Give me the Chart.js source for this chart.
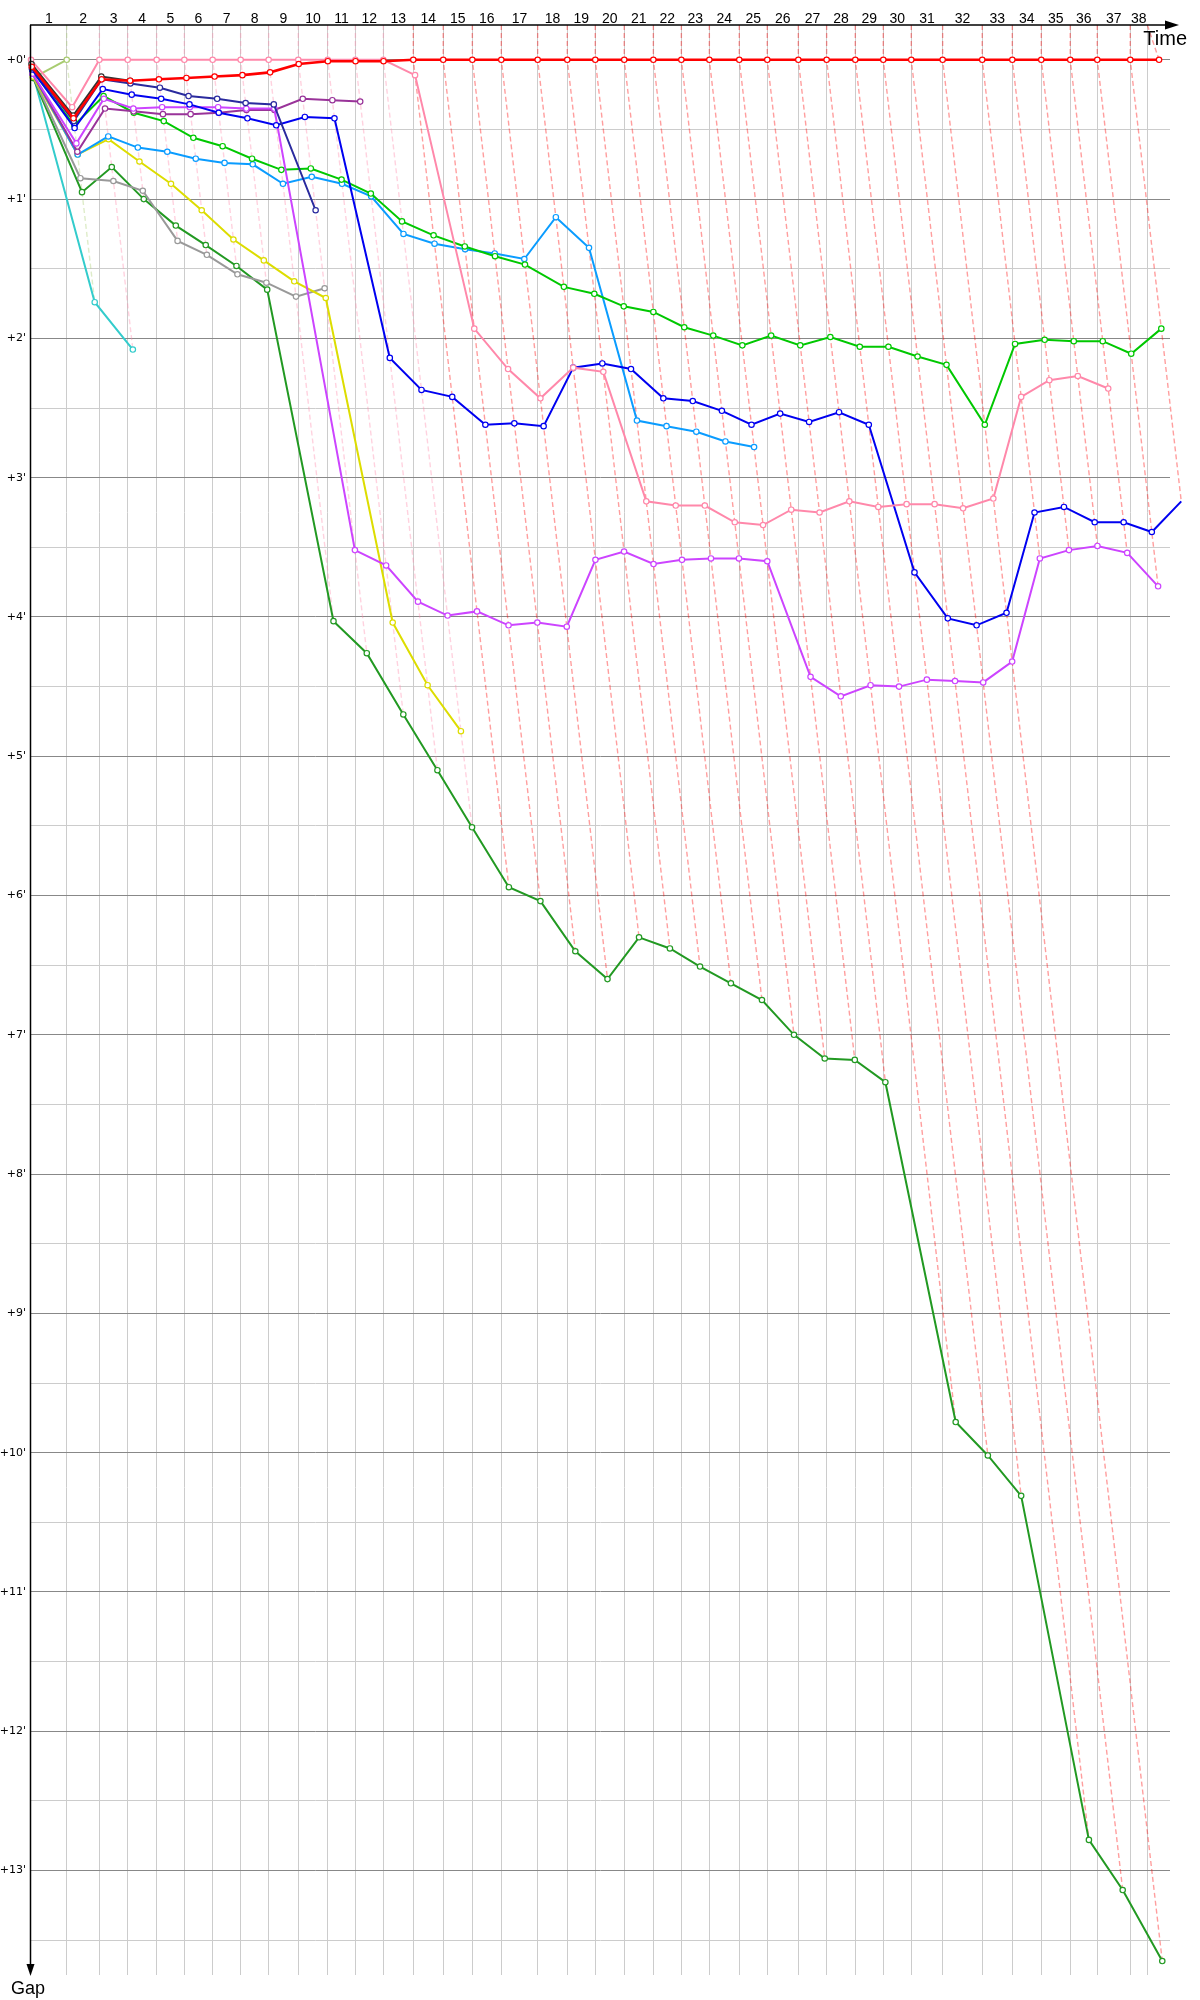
<!DOCTYPE html>
<html><head><meta charset="utf-8">
<script src="https://cdn.jsdelivr.net/npm/chart.js@4.4.1/dist/chart.umd.min.js"></script>
<style>html,body{margin:0;padding:0;background:#fff}#wrap{width:1200px;height:2000px;position:relative}</style>
</head><body><div id="wrap"><canvas id="c" width="1200" height="2000"></canvas></div>
<script>
// ---- data ----
const lapLabels = ["1","2","3","4","5","6","7","8","9","10","11","12","13","14","15","16","17","18","19","20","21","22","23","24","25","26","27","28","29","30","31","32","33","34","35","36","37","38"];
const gapLabels = ["+0'","+1'","+2'","+3'","+4'","+5'","+6'","+7'","+8'","+9'","+10'","+11'","+12'","+13'"];
// leader crossing time (minutes) at laps 0..38
const lapTimes = [0, 2.22, 4.25, 6.01, 7.81, 9.53, 11.29, 13.03, 14.77, 16.61, 18.44, 20.16, 21.90, 23.76, 25.62, 27.43, 29.23, 31.49, 33.33, 35.07, 36.87, 38.68, 40.42, 42.16, 44.02, 45.76, 47.69, 49.45, 51.23, 52.97, 54.71, 56.66, 59.12, 60.99, 62.79, 64.59, 66.27, 68.32, 70.11];
const raceEnd = 69.38;
// gaps to leader (minutes) per lap, starting at lap 0
const gapRed = [0.05, 0.42, 0.14, 0.15, 0.14, 0.13, 0.12, 0.11, 0.09, 0.03, 0.01, 0.01, 0.01, 0, 0, 0, 0, 0, 0, 0, 0, 0, 0, 0, 0, 0, 0, 0, 0, 0, 0, 0, 0, 0, 0, 0, 0, 0, 0];
const gapPink = [0, 0.34, 0, 0, 0, 0, 0, 0, 0, 0, 0, 0, 0, 0.11, 1.93, 2.22, 2.43, 2.21, 2.24, 3.17, 3.20, 3.20, 3.32, 3.34, 3.23, 3.25, 3.17, 3.21, 3.19, 3.19, 3.22, 3.15, 2.42, 2.30, 2.27, 2.36];
const gapYellowGreen = [0.13, 0];
const gapBlack = [0.03, 0.40, 0.12, 0.15];
const gapNavy = [0.06, 0.44, 0.14, 0.17, 0.20, 0.26, 0.28, 0.31, 0.32, 1.08];
const gapBlue = [0.07, 0.49, 0.21, 0.25, 0.28, 0.32, 0.38, 0.42, 0.47, 0.41, 0.42, 2.14, 2.37, 2.42, 2.62, 2.61, 2.63, 2.21, 2.18, 2.22, 2.43, 2.45, 2.52, 2.62, 2.54, 2.60, 2.53, 2.62, 3.68, 4.01, 4.06, 3.97, 3.25, 3.21, 3.32, 3.32, 3.39, 3.17];
const gapMagenta = [0.10, 0.60, 0.28, 0.35, 0.34, 0.34, 0.34, 0.35, 0.35, 3.52, 3.63, 3.89, 3.99, 3.96, 4.06, 4.04, 4.07, 3.59, 3.53, 3.62, 3.59, 3.58, 3.58, 3.60, 4.43, 4.57, 4.49, 4.50, 4.45, 4.46, 4.47, 4.32, 3.58, 3.52, 3.49, 3.54, 3.78];
const gapPurple = [0.10, 0.66, 0.35, 0.37, 0.39, 0.39, 0.38, 0.36, 0.36, 0.28, 0.29, 0.30];
const gapGreen = [0.08, 0.47, 0.26, 0.38, 0.44, 0.56, 0.62, 0.71, 0.79, 0.78, 0.86, 0.96, 1.16, 1.26, 1.34, 1.41, 1.47, 1.63, 1.68, 1.77, 1.81, 1.92, 1.98, 2.05, 1.98, 2.05, 1.99, 2.06, 2.06, 2.13, 2.19, 2.62, 2.04, 2.01, 2.02, 2.02, 2.11, 1.93];
const gapLightBlue = [0.10, 0.68, 0.55, 0.63, 0.66, 0.71, 0.74, 0.75, 0.89, 0.84, 0.89, 0.98, 1.25, 1.32, 1.36, 1.39, 1.43, 1.13, 1.35, 2.59, 2.63, 2.67, 2.74, 2.78];
const gapYellow = [0.12, 0.68, 0.57, 0.73, 0.89, 1.08, 1.29, 1.44, 1.59, 1.71, 4.04, 4.49, 4.82];
const gapGray = [0.12, 0.85, 0.87, 0.94, 1.30, 1.40, 1.54, 1.60, 1.70, 1.64];
const gapDarkGreen = [0.13, 0.95, 0.77, 1.00, 1.19, 1.33, 1.48, 1.65, 4.03, 4.26, 4.70, 5.10, 5.51, 5.94, 6.04, 6.40, 6.60, 6.30, 6.38, 6.51, 6.63, 6.75, 7.00, 7.17, 7.18, 7.34, 9.78, 10.02, 10.31, 12.78, 13.14, 13.65];
const gapCyan = [0.09, 1.74, 2.08];

// ---- styling ----
const series = [
  {gaps: gapRed, color: '#ff0000', width: 2.6},
  {gaps: gapBlack, color: '#333333', width: 2},
  {gaps: gapPink, color: '#ff88aa', width: 2},
  {gaps: gapNavy, color: '#2a2a9e', width: 2},
  {gaps: gapBlue, color: '#0000f0', width: 2},
  {gaps: gapMagenta, color: '#cc44ff', width: 2},
  {gaps: gapPurple, color: '#993399', width: 2},
  {gaps: gapGreen, color: '#00c800', width: 2},
  {gaps: gapLightBlue, color: '#0a9cff', width: 2},
  {gaps: gapYellow, color: '#dddd00', width: 2},
  {gaps: gapGray, color: '#999999', width: 2},
  {gaps: gapDarkGreen, color: '#229922', width: 2},
  {gaps: gapCyan, color: '#33cccc', width: 2},
  {gaps: gapYellowGreen, color: '#a8cc70', width: 2}
];
const yMin = -0.25, yMax = 13.75, xMin = 0, xMax = 70.79;
const gridTimes = lapTimes.slice(0, 38).concat([raceEnd]);

function rgba(hex, a) {
  const n = parseInt(hex.slice(1), 16);
  return `rgba(${(n >> 16) & 255},${(n >> 8) & 255},${n & 255},${a})`;
}

const datasets = [];
series.forEach(s => {
  datasets.push({
    data: s.gaps.map((g, k) => ({x: lapTimes[k] + g, y: g})),
    borderColor: s.color, borderWidth: s.width, backgroundColor: '#ffffff',
    pointRadius: 2.7, pointBorderWidth: 1.2, pointBackgroundColor: '#ffffff', pointBorderColor: s.color,
    tension: 0, fill: false, clip: false, order: 0
  });
});
for (let k = 1; k < lapTimes.length; k++) {
  const pts = series.filter(s => s.gaps.length > k)
    .map(s => ({x: lapTimes[k] + s.gaps[k], y: s.gaps[k], c: s.color}))
    .sort((a, b) => a.y - b.y);
  if (!pts.length) continue;
  const col = rgba(pts[0].c, 0.38);
  datasets.push({
    data: [{x: gridTimes[k], y: yMin}].concat(pts.map(p => ({x: p.x, y: p.y}))),
    borderColor: col, borderWidth: 1.4, borderDash: [5, 3],
    pointRadius: 0, tension: 0, fill: false, clip: false, order: 10
  });
}

const deco = {
  id: 'deco',
  afterDraw(chart) {
    const ctx = chart.ctx, xs = chart.scales.x, ys = chart.scales.y, a = chart.chartArea;
    ctx.save();
    ctx.fillStyle = '#000'; ctx.strokeStyle = '#000';
    // lap labels
    ctx.font = '14px "Liberation Sans", Arial, sans-serif';
    ctx.textAlign = 'center'; ctx.textBaseline = 'alphabetic';
    for (let k = 1; k < gridTimes.length; k++) {
      const xm = (xs.getPixelForValue(gridTimes[k - 1]) + xs.getPixelForValue(gridTimes[k])) / 2;
      ctx.fillText(lapLabels[k - 1], xm, a.top - 2);
    }
    // gap labels
    ctx.font = '11px "DejaVu Sans", Verdana, sans-serif';
    ctx.textAlign = 'right'; ctx.textBaseline = 'middle';
    gapLabels.forEach((t, i) => ctx.fillText(t, a.left - 5, ys.getPixelForValue(i)));
    // axes
    ctx.lineWidth = 1.5;
    ctx.beginPath(); ctx.moveTo(a.left - 1, a.top); ctx.lineTo(a.right - 4, a.top); ctx.stroke();
    ctx.beginPath(); ctx.moveTo(a.right + 9, a.top); ctx.lineTo(a.right - 5, a.top - 4.5); ctx.lineTo(a.right - 5, a.top + 4.5); ctx.closePath(); ctx.fill();
    ctx.beginPath(); ctx.moveTo(a.left - 0.5, a.top); ctx.lineTo(a.left - 0.5, a.bottom - 8); ctx.stroke();
    ctx.beginPath(); ctx.moveTo(a.left - 0.5, a.bottom + 1); ctx.lineTo(a.left - 4.5, a.bottom - 11); ctx.lineTo(a.left + 3.5, a.bottom - 11); ctx.closePath(); ctx.fill();
    // axis titles
    ctx.font = '20px "Liberation Sans", Arial, sans-serif';
    ctx.textAlign = 'right'; ctx.textBaseline = 'alphabetic';
    ctx.fillText('Time', 1187, 45);
    ctx.font = '18px "Liberation Sans", Arial, sans-serif';
    ctx.textAlign = 'center';
    ctx.fillText('Gap', 28, 1994);
    ctx.restore();
  }
};

const yTickVals = [];
for (let v = 0; v <= 13.5; v += 0.5) yTickVals.push(v);

new Chart(document.getElementById('c'), {
  type: 'line',
  data: {datasets},
  options: {
    responsive: false, animation: false, devicePixelRatio: 1,
    layout: {padding: {left: 31, top: 25, right: 30, bottom: 25}},
    plugins: {legend: {display: false}, tooltip: {enabled: false}},
    scales: {
      x: {
        type: 'linear', position: 'top', min: xMin, max: xMax,
        grid: {color: '#cccccc', lineWidth: 1, drawTicks: false},
        border: {display: false}, ticks: {display: false},
        afterBuildTicks: s => { s.ticks = gridTimes.slice(1).map(v => ({value: v})); }
      },
      y: {
        type: 'linear', reverse: true, min: yMin, max: yMax,
        grid: {color: c => (c.tick && Math.abs(c.tick.value - Math.round(c.tick.value)) < 1e-6) ? '#888888' : '#cccccc', lineWidth: 1, drawTicks: false},
        border: {display: false}, ticks: {display: false},
        afterBuildTicks: s => { s.ticks = yTickVals.map(v => ({value: v})); }
      }
    }
  },
  plugins: [deco]
});
</script>
</body></html>
